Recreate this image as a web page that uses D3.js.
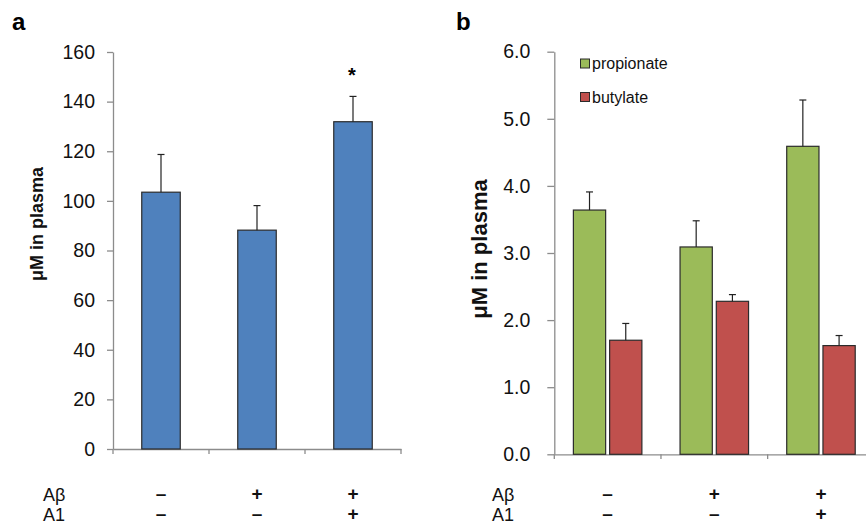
<!DOCTYPE html>
<html>
<head>
<meta charset="utf-8">
<script src="https://cdn.jsdelivr.net/npm/d3@7"></script>
<style>
  body { margin: 0; background: #fff; }
  text { font-family: "Liberation Sans", Arial, sans-serif; }
</style>
</head>
<body>
<div id="chart"></div>
<script>
// data
const groups = ["g1", "g2", "g3"];
const abanSigns = ["–", "+", "+"];
const a1Signs = ["–", "–", "+"];

const plasmaValues = [103.5, 88.2, 131.9];
const plasmaErr = [15.2, 9.9, 10.2];
const plasmaTicks = [0, 20, 40, 60, 80, 100, 120, 140, 160];

const acids = ["propionate", "butylate"];
const propionate = [3.64, 3.09, 4.59];
const propionateErr = [0.27, 0.39, 0.69];
const butylate = [1.70, 2.28, 1.62];
const butylateErr = [0.25, 0.10, 0.15];
const acidTicks = [0, 1, 2, 3, 4, 5, 6];

const colors = { plasma: "#4F81BD", propionate: "#9BBB59", butylate: "#C0504D" };
const axisColor = "#8c8c8c";

const svg = d3.select("#chart").append("svg")
    .attr("width", 866)
    .attr("height", 525);

function styleAxis(g) {
  g.select(".domain").attr("stroke", axisColor).attr("stroke-width", 1.3);
  g.selectAll(".tick line").attr("stroke", axisColor).attr("stroke-width", 1.3);
  g.selectAll(".tick text").attr("fill", "#111").attr("font-size", 19.5)
    .attr("font-family", "Liberation Sans, Arial, sans-serif");
}

function errorBar(g, cx, yTop, yBar) {
  g.append("line").attr("x1", cx).attr("x2", cx).attr("y1", yBar).attr("y2", yTop)
    .attr("stroke", "#222").attr("stroke-width", 1.2);
  g.append("line").attr("x1", cx - 3.5).attr("x2", cx + 3.5).attr("y1", yTop).attr("y2", yTop)
    .attr("stroke", "#222").attr("stroke-width", 1.2);
}

function signRows(g, xPos) {
  g.append("text").attr("x", xPos.label).attr("y", 495).attr("dy", "0.35em")
    .attr("font-size", 18).attr("fill", "#111").text("Aβ");
  g.append("text").attr("x", xPos.label).attr("y", 515).attr("dy", "0.35em")
    .attr("font-size", 18).attr("fill", "#111").text("A1");
  groups.forEach((k, i) => {
    g.append("text").attr("x", xPos.center(k)).attr("y", 493).attr("dy", "0.35em")
      .attr("text-anchor", "middle").attr("font-size", 19).attr("font-weight", "bold")
      .attr("fill", "#111").text(abanSigns[i]);
    g.append("text").attr("x", xPos.center(k)).attr("y", 513).attr("dy", "0.35em")
      .attr("text-anchor", "middle").attr("font-size", 19).attr("font-weight", "bold")
      .attr("fill", "#111").text(a1Signs[i]);
  });
}

// ---------- panel a ----------
const pa = svg.append("g");
const xa = d3.scaleBand().domain(groups).range([113, 401]);
const ya = d3.scaleLinear().domain([0, 160]).range([449, 52]);
const barWa = 38.5;

pa.append("g")
    .attr("transform", "translate(113,0)")
    .call(d3.axisLeft(ya).tickValues(plasmaTicks).tickSize(6).tickPadding(12).tickSizeOuter(0))
    .call(styleAxis);

pa.append("g")
    .attr("transform", "translate(0,449)")
    .call(d3.axisBottom(xa).tickSize(0).tickSizeOuter(0).tickFormat(""))
    .call(styleAxis);
// category separators on the x axis
pa.selectAll(".sepA").data(groups).join("line")
    .attr("x1", d => xa(d) + xa.bandwidth()).attr("x2", d => xa(d) + xa.bandwidth())
    .attr("y1", 449).attr("y2", 454)
    .attr("stroke", axisColor).attr("stroke-width", 1.3);
pa.append("line").attr("x1", 113).attr("x2", 113).attr("y1", 449).attr("y2", 454)
    .attr("stroke", axisColor).attr("stroke-width", 1.3);

groups.forEach((k, i) => {
  const cx = xa(k) + xa.bandwidth() / 2;
  pa.append("rect")
    .attr("x", cx - barWa / 2).attr("width", barWa)
    .attr("y", ya(plasmaValues[i])).attr("height", ya(0) - ya(plasmaValues[i]))
    .attr("fill", colors.plasma).attr("stroke", "#2b2b2b").attr("stroke-width", 1.2);
  errorBar(pa, cx, ya(plasmaValues[i] + plasmaErr[i]), ya(plasmaValues[i]));
});

pa.append("text").attr("x", xa("g3") + xa.bandwidth() / 2 - 1).attr("y", 82)
    .attr("text-anchor", "middle").attr("font-size", 20).attr("font-weight", "bold").text("*");

pa.append("text")
    .attr("transform", "translate(37,224) rotate(-90)")
    .attr("text-anchor", "middle").attr("dy", "0.35em")
    .attr("font-size", 18).attr("font-weight", "bold").attr("fill", "#111")
    .text("μM in plasma");

pa.append("text").attr("x", 12).attr("y", 30)
    .attr("font-size", 24).attr("font-weight", "bold").text("a");

signRows(pa, { label: 43, center: k => xa(k) + xa.bandwidth() / 2 });

// ---------- panel b ----------
const pb = svg.append("g");
const xb = d3.scaleBand().domain(groups).range([554.3, 874.3]);
const groupW = 68.5;
const xbSub = d3.scaleBand().domain(acids).range([0, groupW]).paddingInner(0.11);
const yb = d3.scaleLinear().domain([0, 6]).range([454.3, 51.7]);

pb.append("g")
    .attr("transform", "translate(554.3,0)")
    .call(d3.axisLeft(yb).tickValues(acidTicks).tickSize(7).tickPadding(17).tickSizeOuter(0)
      .tickFormat(d3.format(".1f")))
    .call(styleAxis);

pb.append("g")
    .attr("transform", "translate(0,454.3)")
    .call(d3.axisBottom(xb).tickSize(0).tickSizeOuter(0).tickFormat(""))
    .call(styleAxis);
pb.selectAll(".sepB").data(groups).join("line")
    .attr("x1", d => xb(d) + xb.bandwidth()).attr("x2", d => xb(d) + xb.bandwidth())
    .attr("y1", 454.3).attr("y2", 459)
    .attr("stroke", axisColor).attr("stroke-width", 1.3);
pb.append("line").attr("x1", 554.3).attr("x2", 554.3).attr("y1", 454.3).attr("y2", 459)
    .attr("stroke", axisColor).attr("stroke-width", 1.3);

const seriesB = [
  { key: "propionate", values: propionate, err: propionateErr },
  { key: "butylate", values: butylate, err: butylateErr }
];

groups.forEach((k, i) => {
  const gx = xb(k) + (xb.bandwidth() - groupW) / 2;
  seriesB.forEach(s => {
    const x0 = gx + xbSub(s.key);
    const cx = x0 + xbSub.bandwidth() / 2;
    pb.append("rect")
      .attr("x", x0).attr("width", xbSub.bandwidth())
      .attr("y", yb(s.values[i])).attr("height", yb(0) - yb(s.values[i]))
      .attr("fill", colors[s.key]).attr("stroke", "#2b2b2b").attr("stroke-width", 1.2);
    errorBar(pb, cx, yb(s.values[i] + s.err[i]), yb(s.values[i]));
  });
});

// legend
acids.forEach((a, i) => {
  const ly = 63.5 + i * 33.5;
  pb.append("rect").attr("x", 580.5).attr("y", ly - 4.5).attr("width", 9).attr("height", 9)
    .attr("fill", colors[a]).attr("stroke", "#2b2b2b").attr("stroke-width", 1);
  pb.append("text").attr("x", 592).attr("y", ly).attr("dy", "0.35em")
    .attr("font-size", 16).attr("fill", "#111").text(a);
});

pb.append("text")
    .attr("transform", "translate(479,249) rotate(-90)")
    .attr("text-anchor", "middle").attr("dy", "0.35em")
    .attr("font-size", 22).attr("font-weight", "bold").attr("fill", "#111")
    .text("μM in plasma");

pb.append("text").attr("x", 456).attr("y", 30)
    .attr("font-size", 24).attr("font-weight", "bold").text("b");

signRows(pb, { label: 492, center: k => xb(k) + xb.bandwidth() / 2 });
</script>
</body>
</html>
